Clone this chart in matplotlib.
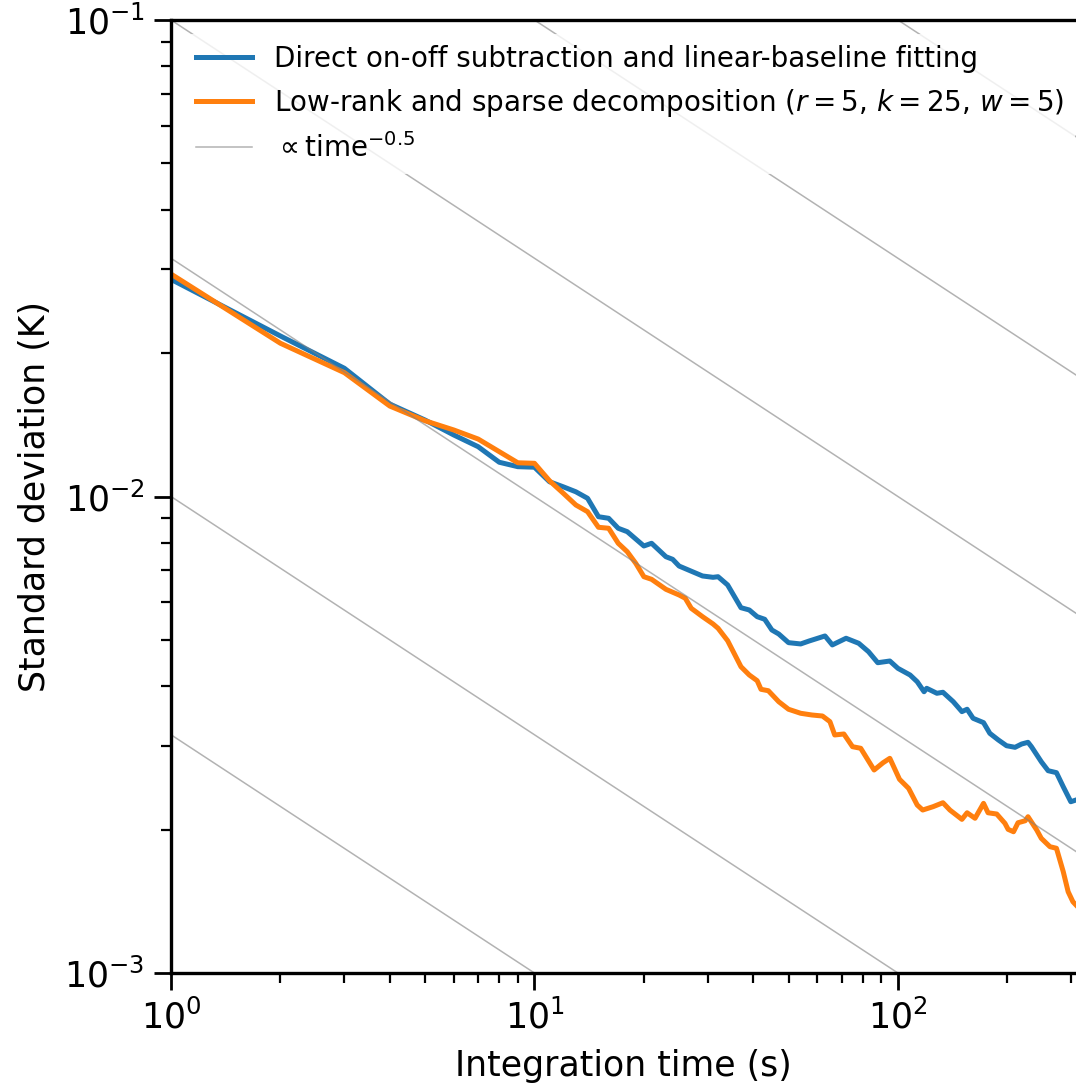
import numpy as np
import matplotlib as mpl
import matplotlib.pyplot as plt

mpl.use('Agg')

# integration time (s) and standard deviation (K)
t_direct = [1, 2, 3, 4, 5, 6, 7, 8, 9, 10, 11, 12, 13, 14, 15, 16, 17, 18, 20, 21,
            23, 24, 25, 29, 31, 32, 34, 37, 39, 41, 43, 45, 47, 50, 54, 57, 63, 66,
            72, 78, 83, 88, 95, 100, 108, 113, 118, 120, 128, 133, 142, 150, 155,
            161, 172, 179, 189, 199, 210, 219, 228, 233, 248, 259, 273, 285, 299, 309]
sd_direct = [0.02856, 0.02172, 0.01858, 0.01563, 0.01447, 0.01346, 0.01272, 0.01180,
             0.01155, 0.01152, 0.01074, 0.01048, 0.01023, 0.009913, 0.009070, 0.009000,
             0.008577, 0.008437, 0.007873, 0.007977, 0.007475, 0.007382, 0.007146,
             0.006811, 0.006767, 0.006787, 0.006522, 0.005843, 0.005779, 0.005595,
             0.005525, 0.005246, 0.005146, 0.004935, 0.004904, 0.004975, 0.005097,
             0.004881, 0.005041, 0.004920, 0.004724, 0.004479, 0.004516, 0.004359,
             0.004221, 0.004086, 0.003893, 0.003958, 0.003864, 0.003883, 0.003710,
             0.003536, 0.003577, 0.003424, 0.003353, 0.003184, 0.003083, 0.002999,
             0.002976, 0.003024, 0.003049, 0.002985, 0.002776, 0.002658, 0.002633,
             0.002460, 0.002288, 0.002307]

t_lowrank = [1, 2, 3, 4, 5, 6, 7, 8, 9, 10, 11, 12, 13, 14, 15, 16, 17, 18, 19, 20,
             21, 23, 25, 26, 27, 29, 31, 32, 34, 37, 39, 41, 42, 44, 47, 50, 54, 58,
             62, 65, 67, 71, 75, 79, 86, 91, 95, 101, 107, 113, 117, 125, 133, 139,
             150, 155, 163, 172, 177, 187, 197, 201, 208, 214, 224, 228, 241, 248,
             262, 273, 285, 294, 303, 309]
sd_lowrank = [0.02930, 0.02097, 0.01819, 0.01548, 0.01442, 0.01379, 0.01320, 0.01242,
              0.01177, 0.01174, 0.01079, 0.01016, 0.009598, 0.009292, 0.008618,
              0.008577, 0.007977, 0.007658, 0.007240, 0.006787, 0.006702, 0.006386,
              0.006213, 0.006115, 0.005826, 0.005595, 0.005401, 0.005290, 0.004982,
              0.004393, 0.004221, 0.004106, 0.003939, 0.003912, 0.003710, 0.003577,
              0.003508, 0.003479, 0.003462, 0.003369, 0.003159, 0.003174, 0.002985,
              0.002962, 0.002667, 0.002762, 0.002822, 0.002550, 0.002441, 0.002252,
              0.002198, 0.002234, 0.002277, 0.002198, 0.002101, 0.002169, 0.002112,
              0.002270, 0.002169, 0.002156, 0.002061, 0.002002, 0.001979, 0.002067,
              0.002087, 0.002128, 0.001995, 0.001917, 0.001841, 0.001827, 0.001632,
              0.001481, 0.001411, 0.001389]

# prefactors of the guide lines proportional to time^-0.5
guide_coefs = [10**-2.5, 10**-2, 10**-1.5, 10**-1, 10**-0.5, 1.0]

fig = plt.figure(figsize=(10.76, 10.87), dpi=100)
ax = fig.add_axes([171/1076, 114/1087, 905/1076, 953/1087])

ax.plot(t_direct, sd_direct, color='#1f77b4', lw=3.6,
        label='Direct on-off subtraction and linear-baseline fitting')
ax.plot(t_lowrank, sd_lowrank, color='#ff7f0e', lw=3.6,
        label='Low-rank and sparse decomposition ($r = 5$, $k = 25$, $w = 5$)')

tt = np.logspace(0, 2.6, 200)
for i, c in enumerate(guide_coefs):
    ax.plot(tt, c * tt**-0.5, color='gray', alpha=0.6, lw=1.1,
            label=r'$\propto$time$^{-0.5}$' if i == 0 else None)

ax.set_xscale('log')
ax.set_yscale('log')
ax.set_xlim(1, 309)
ax.set_ylim(1e-3, 1e-1)

ax.set_xlabel('Integration time (s)', fontsize=25, labelpad=10)
ax.set_ylabel('Standard deviation (K)', fontsize=25, labelpad=9)
ax.tick_params(which='major', labelsize=25, length=12, width=2, direction='out', pad=7)
ax.tick_params(which='minor', length=7, width=1.6, direction='out')
ax.spines['right'].set_visible(False)
for s in ['top', 'left', 'bottom']:
    ax.spines[s].set_linewidth(2.4)

ax.legend(loc='upper left', fontsize=20, frameon=True, edgecolor='none', framealpha=0.8)

fig.savefig('out.png')
